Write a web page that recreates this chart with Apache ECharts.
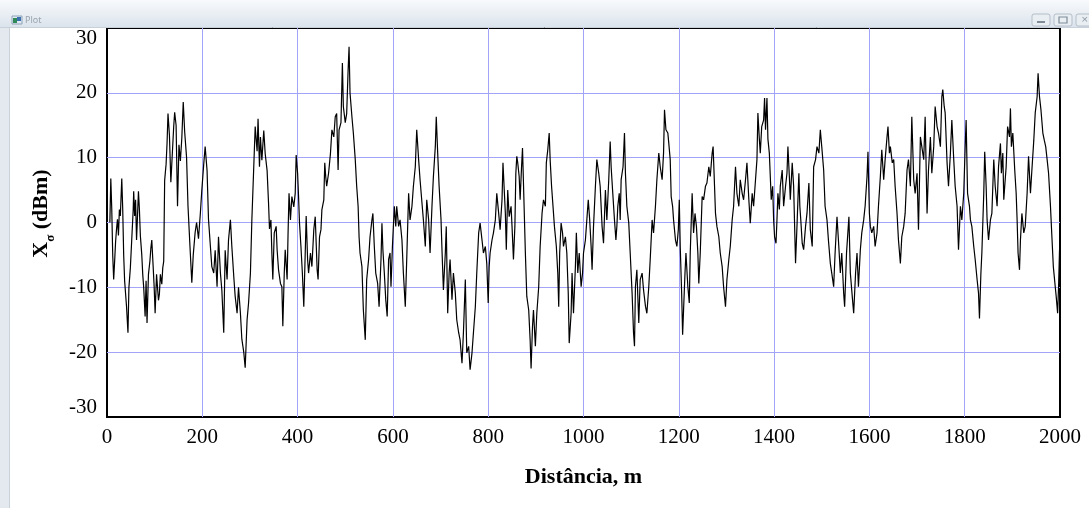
<!DOCTYPE html>
<html>
<head>
<meta charset="utf-8">
<title>Plot</title>
<script src="https://cdn.jsdelivr.net/npm/echarts@6/dist/echarts.min.js"></script>
<style>
  html, body { margin: 0; padding: 0; background: #fff; }
  #chart { width: 1089px; height: 508px; }
</style>
</head>
<body>
<div id="chart"></div>
<script>
// Shadowing component X_sigma (dB) along the route, as [distance m, value dB]
const run0to340 = [[6,0],[8,6.8],[10,2],[12,-5],[14,-8.8],[16,-6],[18,-3],[20,-1],[22,0.5],[24,-2],[26,2],[28,1],[31,6.8],[33,2],[35,-5],[37,-9],[39,-11],[41,-13],[44,-17],[46,-10],[49,-7],[51,-4],[53,-1],[55,2],[56,4.8],[58,1],[60,3.5],[62,-2.7],[64,1],[66,4.8],[68,2],[70,-2],[73,-5],[75,-8],[77,-10],[79,-13],[80,-14.5],[82,-9],[84,-15.5],[87,-8],[90,-6],[92,-4],[94,-2.7],[97,-7],[99,-10],[101,-14],[104,-8],[106,-10],[108,-12],[110,-11],[112,-8],[115,-9.5],[117,-7],[119,-6],[121,6.5],[124,9],[126,12.2],[128,16.8],[131,13.5],[134,6.2],[137,10.5],[140,14.8],[142,17],[145,15],[148,2.5],[151,12],[154,9.5],[157,13],[160,18.6],[163,14],[167,10],[170,2.5],[174,-3.5],[178,-9.3],[181,-5],[185,-1.5],[188,0],[192,-2.5],[196,1.5],[199,5],[203,9],[206,11.7],[210,8],[213,0.5],[217,-3.7],[220,-6.8],[224,-7.8],[227,-4.3],[231,-9.9],[234,-2.2],[238,-7.8],[241,-10.4],[245,-17],[248,-4.3],[252,-8.8],[255,-2.7],[259,0.4],[262,-3.7],[266,-8.3],[269,-11.4],[273,-14],[276,-10],[280,-14],[283,-18],[287,-20],[290,-22.4],[294,-15],[297,-12.5],[301,-7.8],[304,0.4],[308,8.6],[311,14.8],[315,11],[317,16],[320,8.6],[322,13.2],[325,9.6],[329,14.2],[332,10.6],[336,8]];

const run340to670 = [[339,3],[341,-1],[344,0.4],[346,-4.7],[348,-8.8],[351,-1.6],[355,-0.6],[357,-4.2],[360,-7.3],[364,-9.4],[367,-9.9],[369,-16],[372,-7.8],[374,-4.2],[378,-8.8],[380,-1.6],[382,4.5],[385,0.4],[388,4],[392,2.4],[395,4.5],[397,10.4],[400,7.6],[402,4],[404,-0.1],[407,-3.7],[410,-7.8],[413,-13],[416,-4.7],[418,1],[421,-5.7],[423,-7.8],[427,-4.7],[430,-6.8],[434,-1.1],[437,0.9],[441,-7.3],[443,-8.8],[446,-2.2],[449,-1.1],[451,2],[455,3.5],[457,9.2],[459,7.1],[461,5.6],[465,7.6],[469,10.7],[472,14.3],[476,13.2],[479,16.3],[482,16.8],[485,8.1],[487,14.3],[491,15.4],[494,24.6],[496,17.9],[500,15.4],[503,16.8],[506,23.5],[508,27.1],[510,20],[514,16.3],[517,13.8],[521,9.7],[524,5.6],[527,2.5],[529,-2.2],[531,-4.7],[535,-6.8],[538,-13.5],[542,-18.1],[545,-8.8],[549,-5.7],[552,-2.2],[556,0.4],[558,1.4],[561,-3.7],[564,-7.8],[568,-9.4],[571,-13],[575,-5.7],[577,-0.1],[579,-4.2],[582,-7.8],[585,-11.9],[588,-14.5],[591,-5.7],[594,-4.7],[596,-9.9],[599,-3.7],[603,2.5],[606,-0.6],[608,2.5],[612,-0.6],[615,0.4],[619,-2.7],[622,-7.8],[626,-13],[629,-5.7],[633,4.5],[636,0.4],[640,2.5],[643,5.6],[647,8.6],[650,14.3],[654,9.7],[657,6.6],[661,3],[664,0.4],[668,-3.7]];

const run670to1010 = [[671,3.5],[675,0.4],[678,-4.7],[682,2.5],[685,7.1],[689,11.7],[691,16.3],[694,10.7],[697,5.6],[701,0.4],[703,-4.2],[706,-10.4],[710,-4.7],[712,-0.6],[715,-14],[718,-7.8],[720,-5.7],[724,-11.9],[727,-7.8],[731,-10.9],[734,-15],[738,-17],[741,-18.1],[745,-21.7],[748,-17],[752,-8.8],[755,-20.1],[759,-19.1],[762,-22.7],[766,-20.1],[769,-17],[773,-13],[776,-7.8],[780,-1.6],[783,-0.1],[787,-2.7],[790,-4.7],[794,-3.7],[797,-6.3],[800,-12.4],[802,-6.8],[804,-4.7],[808,-2.7],[811,-1.6],[815,0.4],[818,4.5],[822,1.4],[825,-1.1],[829,3.5],[831,9.2],[834,4.5],[836,1.4],[838,-4.2],[841,5],[844,0.9],[848,2.5],[850,-0.6],[853,-5.7],[856,-0.6],[858,7.6],[860,10.2],[862,9.2],[865,7.1],[867,3.5],[870,8.6],[872,11.5],[874,6.1],[878,-4.7],[881,-11.4],[885,-13.5],[888,-18.1],[890,-22.5],[893,-16],[895,-13.5],[899,-19.1],[902,-14],[906,-9.9],[909,-3.7],[913,1.4],[916,3.5],[920,2.5],[922,9.2],[925,11.2],[928,13.8],[930,9.7],[933,5.6],[936,2.5],[939,-0.6],[943,-3.7],[946,-7.8],[948,-13],[950,-4.7],[953,-0.1],[956,-1.6],[958,-3.7],[962,-2.2],[965,-4.7],[968,-10.9],[970,-18.6],[974,-14],[976,-7.8],[979,-14],[983,-6.8],[985,-1.6],[988,-7.8],[991,-4.7],[995,-9.9],[998,-7.8],[1000,-4.7],[1004,-2.7],[1007,0.4]];

const run1010to1345 = [[1010,3.5],[1013,0.4],[1016,-3.7],[1018,-7.3],[1021,-0.6],[1025,5.6],[1028,9.7],[1032,7.6],[1035,5.6],[1039,-0.6],[1042,-3.2],[1046,5],[1049,0.4],[1053,6.6],[1056,12.5],[1058,8.6],[1061,5],[1065,0.4],[1068,-2.7],[1070,-0.6],[1072,2.5],[1075,4.5],[1077,0.4],[1079,6.6],[1083,8.6],[1086,13.8],[1088,7.6],[1091,2.5],[1095,-0.1],[1098,-4.7],[1102,-10.9],[1105,-17],[1107,-19.1],[1109,-9.9],[1112,-7.3],[1116,-15.5],[1119,-8.8],[1123,-7.8],[1126,-10.4],[1130,-12.9],[1133,-14],[1137,-9.9],[1140,-5.7],[1144,0.4],[1147,-1.6],[1151,2.5],[1154,6.6],[1158,10.7],[1161,8.6],[1165,6.6],[1168,10.7],[1170,17.4],[1173,14.3],[1177,13.8],[1179,12.2],[1182,9.7],[1184,4],[1187,2.5],[1189,0.4],[1193,-2.7],[1196,-3.7],[1199,-1.1],[1201,3.5],[1203,-3.7],[1206,-10.9],[1208,-17.3],[1210,-13.5],[1213,-7.8],[1215,-4.7],[1219,-9.9],[1222,-12.4],[1224,-4.7],[1228,4.5],[1231,-1.6],[1234,1.4],[1237,-0.6],[1240,-4.7],[1242,-9.4],[1245,-4.7],[1249,4],[1252,3.5],[1256,5.6],[1259,6.1],[1263,8.6],[1266,7.1],[1270,10.7],[1272,11.7],[1275,5.6],[1277,1.4],[1280,-0.6],[1284,-2.2],[1287,-4.7],[1291,-6.8],[1294,-9.9],[1298,-13],[1301,-8.8],[1305,-5.7],[1308,-3.7],[1312,0.4],[1315,2.5],[1319,8.6],[1322,4.5],[1326,2.5],[1329,6.6],[1333,4.5],[1336,3.5],[1340,6.6],[1343,9.2]];

const run1345to1680 = [[1347,3.5],[1350,-0.1],[1354,4.5],[1357,2.5],[1361,6.6],[1364,9.7],[1366,16.9],[1369,12.9],[1371,10.7],[1374,14.8],[1378,15.8],[1380,19.2],[1382,14.3],[1385,19.2],[1387,12.9],[1390,10.7],[1392,7.1],[1394,3.5],[1397,5.6],[1399,0.4],[1401,-2.2],[1404,-3.2],[1406,0.4],[1408,4.5],[1411,2],[1413,5.6],[1417,8.1],[1420,2.5],[1424,5.6],[1427,7.6],[1429,11.7],[1432,7.1],[1434,3.5],[1438,9.2],[1441,5.6],[1445,-6.3],[1448,-0.6],[1452,7.6],[1454,2.5],[1456,0.4],[1459,-3.2],[1462,-4.2],[1466,-0.6],[1469,1.4],[1473,6.1],[1476,-1.1],[1480,-3.7],[1483,8.6],[1487,9.7],[1490,11.7],[1494,10.7],[1497,14.3],[1500,11.7],[1504,8.1],[1507,2.5],[1511,0.4],[1514,-2.7],[1518,-6.3],[1521,-7.8],[1525,-9.9],[1528,-4.7],[1532,0.9],[1535,-2.7],[1539,-7.8],[1542,-4.7],[1546,-10.9],[1548,-13],[1552,-4.7],[1557,0.9],[1560,-7.8],[1564,-11.4],[1567,-14],[1571,-7.8],[1574,-4.7],[1577,-9.9],[1581,-4.2],[1584,-1.6],[1588,0.4],[1591,2.5],[1595,7.1],[1597,10.9],[1600,1.4],[1602,-0.6],[1605,-1.6],[1609,-0.6],[1612,-3.7],[1616,-1.6],[1619,2.5],[1623,7.1],[1626,11.2],[1630,6.6],[1633,9.7],[1637,13.2],[1639,14.8],[1642,10.7],[1644,11.7],[1648,9.2],[1651,9.7],[1654,5.6],[1658,1.4],[1661,-2.7],[1665,-6.3],[1668,-2.2],[1672,-0.6],[1675,1.4],[1679,8.1]];

const run1680to2000 = [[1682,9.7],[1686,5.6],[1689,16.3],[1693,6.6],[1696,4.5],[1700,7.6],[1703,-1.1],[1707,13.2],[1710,11.7],[1714,9.7],[1717,16.3],[1721,1.4],[1724,8.1],[1728,13.2],[1731,7.6],[1735,11.7],[1738,17.9],[1742,14.8],[1745,13.8],[1749,11.7],[1752,19.4],[1754,20.5],[1757,17.9],[1759,16.9],[1763,9.2],[1766,5.6],[1770,10.7],[1773,15.8],[1777,9.7],[1780,5.6],[1784,2.5],[1787,-4.2],[1791,2.5],[1794,0.4],[1798,4.5],[1801,11.7],[1803,15.8],[1806,4.5],[1810,2.5],[1812,0.4],[1815,-0.6],[1819,-3.7],[1822,-5.7],[1826,-8.8],[1829,-10.9],[1831,-14.8],[1834,-7.8],[1836,-4.7],[1840,4.5],[1842,10.9],[1845,5.6],[1847,0.4],[1850,-2.7],[1854,0.4],[1857,1.4],[1861,9.7],[1864,5.6],[1868,2.5],[1871,8.6],[1875,12.2],[1877,7.6],[1880,10.7],[1882,3.5],[1884,5.6],[1887,8.6],[1890,14.8],[1894,13.2],[1896,17.6],[1898,11.7],[1901,13.8],[1905,8.1],[1908,4.5],[1910,0.4],[1912,-4.7],[1915,-7.3],[1917,-2.7],[1920,1.4],[1924,-1.6],[1927,-0.6],[1931,4.5],[1934,10.2],[1938,4.5],[1941,8.1],[1945,12.7],[1948,16.9],[1952,19.4],[1954,23],[1957,19.4],[1960,17.4],[1964,13.8],[1967,12.7],[1970,11.7],[1973,9.7],[1976,7.6],[1980,2.5],[1983,-2.2],[1986,-6.8],[1990,-9.9],[1992,-11.4],[1995,-14],[1997,-9.9],[1999,-4.2],[2000,-6]];

// Axis ranges and labels
const distanceRange = [0, 2000];
const distanceStep = 200;
const levelRange = [-30, 30];
const levelStep = 10;
const xTitle = 'Distância, m';
const windowTitle = 'Plot';

const shadowing = [].concat(run0to340, run340to670, run670to1010, run1010to1345, run1345to1680, run1680to2000);

const serif = 'Liberation Serif';
const tickFont = { fontFamily: serif, fontSize: 21, color: '#000' };
const gridBlue = '#a3a3f7';

const chart = echarts.init(document.getElementById('chart'), null, { renderer: 'canvas' });

chart.setOption({
  backgroundColor: '#ffffff',
  animation: false,
  grid: {
    left: 107, right: 29, top: 28, bottom: 91,
    show: true, borderColor: '#000', borderWidth: 2, backgroundColor: '#fff'
  },
  xAxis: {
    type: 'value',
    min: distanceRange[0], max: distanceRange[1], interval: distanceStep,
    axisLine: { show: false },
    axisTick: { show: false },
    axisLabel: Object.assign({ margin: 10, formatter: function (v) { return String(v); } }, tickFont),
    splitLine: { show: true, showMinLine: false, showMaxLine: false, lineStyle: { color: gridBlue, width: 1 } },
    name: xTitle,
    nameLocation: 'middle',
    nameGap: 49,
    nameTextStyle: { fontFamily: serif, fontSize: 22, fontWeight: 'bold', color: '#000' }
  },
  yAxis: {
    type: 'value',
    min: levelRange[0], max: levelRange[1], interval: levelStep,
    axisLine: { show: false },
    axisTick: { show: false },
    axisLabel: {
      margin: 10,
      formatter: function (v) {
        if (v === levelRange[1]) return '{top|' + v + '}';
        if (v === levelRange[0]) return '{bot|' + v + '}';
        return '{n|' + v + '}';
      },
      rich: {
        n: tickFont,
        top: Object.assign({ padding: [20, 0, 0, 0] }, tickFont),
        bot: Object.assign({ padding: [0, 0, 20, 0] }, tickFont)
      }
    },
    splitLine: { show: true, showMinLine: false, showMaxLine: false, lineStyle: { color: gridBlue, width: 1 } },
    name: '{x|X}{s|σ}{x| (dBm)}',
    nameLocation: 'middle',
    nameRotate: 90,
    nameGap: 54,
    nameTextStyle: {
      padding: [0, 0, 0, 18],
      rich: {
        x: { fontFamily: serif, fontSize: 22, fontWeight: 'bold', color: '#000', lineHeight: 24 },
        s: { fontFamily: serif, fontSize: 13, fontWeight: 'bold', color: '#000', verticalAlign: 'bottom', lineHeight: 24, padding: [0, 0, -4, 0] }
      }
    }
  },
  series: [{
    type: 'line',
    data: shadowing,
    showSymbol: false,
    symbol: 'none',
    smooth: false,
    lineStyle: { color: '#000', width: 1.2 },
    z: 3
  }],
  graphic: [
    // window frame: title bar and left edge
    { type: 'rect', z: 100, silent: true, shape: { x: 0, y: 0, width: 1089, height: 27 },
      style: { fill: new echarts.graphic.LinearGradient(0, 0, 0, 1, [
        { offset: 0, color: '#f8fafc' }, { offset: 1, color: '#dbe3ec' }]) } },
    { type: 'line', z: 101, silent: true, shape: { x1: 0, y1: 27.5, x2: 1089, y2: 27.5 },
      style: { stroke: '#c8d0d9', lineWidth: 1 } },
    { type: 'rect', z: 100, silent: true, shape: { x: 0, y: 27, width: 9, height: 481 },
      style: { fill: '#e3e9ef' } },
    { type: 'line', z: 101, silent: true, shape: { x1: 9.5, y1: 27, x2: 9.5, y2: 508 },
      style: { stroke: '#c8d0d9', lineWidth: 1 } },
    // window icon
    { type: 'rect', z: 102, silent: true, shape: { x: 12, y: 16, width: 10, height: 8 },
      style: { fill: '#dfe9f3', stroke: '#8fa3b8', lineWidth: 1 } },
    { type: 'rect', z: 103, silent: true, shape: { x: 13, y: 18, width: 4, height: 5 },
      style: { fill: '#2f8a57' } },
    { type: 'rect', z: 103, silent: true, shape: { x: 17, y: 17, width: 4, height: 4 },
      style: { fill: '#3a6fb0' } },
    { type: 'text', z: 102, silent: true, x: 25, y: 20,
      style: { text: windowTitle, fontFamily: 'Noto Sans', fontSize: 9, fill: '#9aa4ae', verticalAlign: 'middle' } },
    // caption buttons
    { type: 'rect', z: 102, silent: true, shape: { x: 1032, y: 14, width: 18, height: 12, r: 2 },
      style: { fill: '#e9eef3', stroke: '#b4bec9', lineWidth: 1 } },
    { type: 'rect', z: 103, silent: true, shape: { x: 1037, y: 21, width: 8, height: 2 },
      style: { fill: '#7f8b97' } },
    { type: 'rect', z: 102, silent: true, shape: { x: 1054, y: 14, width: 18, height: 12, r: 2 },
      style: { fill: '#e9eef3', stroke: '#b4bec9', lineWidth: 1 } },
    { type: 'rect', z: 103, silent: true, shape: { x: 1059, y: 17, width: 8, height: 6 },
      style: { fill: 'none', stroke: '#7f8b97', lineWidth: 1.2 } },
    { type: 'rect', z: 102, silent: true, shape: { x: 1076, y: 14, width: 18, height: 12, r: 2 },
      style: { fill: '#e9eef3', stroke: '#b4bec9', lineWidth: 1 } },
    { type: 'text', z: 103, silent: true, x: 1081, y: 20,
      style: { text: '×', fontFamily: 'DejaVu Sans', fontSize: 9, fill: '#8a96a2', verticalAlign: 'middle' } }
  ]
});
</script>
</body>
</html>
